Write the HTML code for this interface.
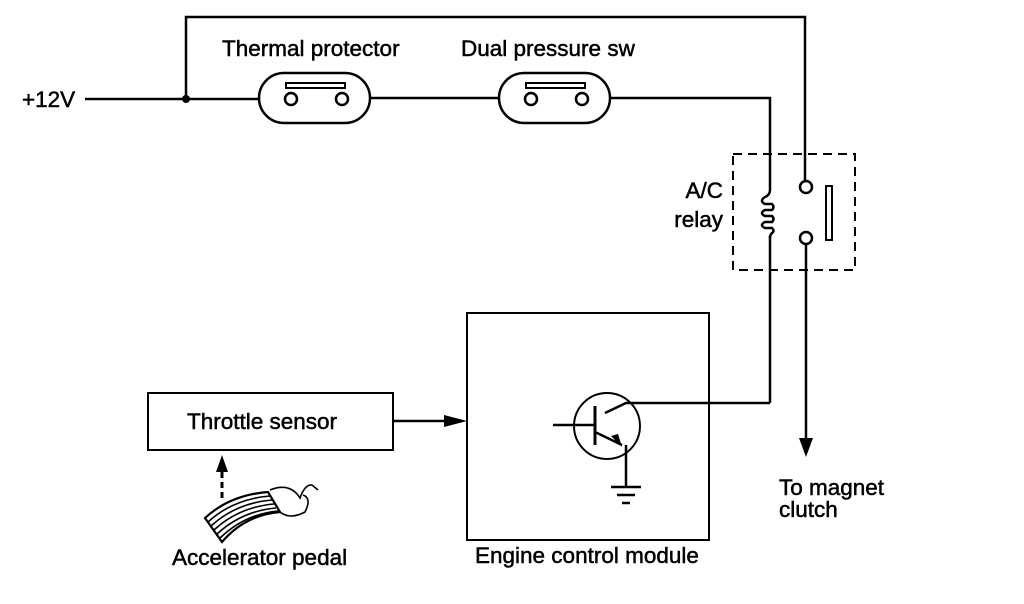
<!DOCTYPE html>
<html><head><meta charset="utf-8"><style>
html,body{margin:0;padding:0;background:#fff;}
svg{display:block}
text{font-family:"Liberation Sans",Arial,sans-serif;font-size:22.5px;fill:#000;stroke:#000;stroke-width:0.5}
</style></head><body>
<svg width="1024" height="604" viewBox="0 0 1024 604" xmlns="http://www.w3.org/2000/svg">
<g stroke="#000" stroke-width="2.5" fill="none">
<line x1="85" y1="99" x2="260" y2="99"/>
<polyline points="186,99 186,17 805,17 805,180"/>
<line x1="370" y1="98" x2="500" y2="98"/>
<polyline points="610,98 770,98 770,190"/>
<rect x="259" y="73" width="111" height="50" rx="25"/>
<rect x="499" y="73" width="111" height="50" rx="25"/>
<rect x="286" y="83" width="59" height="5" stroke-width="2"/>
<rect x="526" y="83" width="59" height="5" stroke-width="2"/>
<circle cx="291" cy="99" r="6" fill="#fff"/>
<circle cx="342" cy="99" r="6" fill="#fff"/>
<circle cx="531" cy="99" r="6" fill="#fff"/>
<circle cx="582" cy="99" r="6" fill="#fff"/>
<rect x="733" y="154" width="122" height="116" stroke-dasharray="9,6" stroke-width="2"/>
<path d="M770 190 Q770 195 765 197 Q759 201 765 204 L772 204 Q775 207 772 210 L765 210 Q759 213 765 216 L772 216 Q775 219 772 222 L765 222 Q759 225 765 228 L772 228 Q775 231 772 233 Q770 235 770 238"/>
<line x1="770" y1="236" x2="770" y2="403"/>
<circle cx="806" cy="187" r="6" fill="#fff"/>
<circle cx="806" cy="238" r="6" fill="#fff"/>
<rect x="826" y="186" width="6" height="54" stroke-width="2"/>
<line x1="806" y1="244" x2="806" y2="440"/>
<rect x="467" y="313" width="242" height="227" stroke-width="2"/>
<polyline points="770,403 626,403 605,413"/>
<circle cx="607" cy="426" r="33" stroke-width="2"/>
<line x1="553" y1="425" x2="595" y2="425"/>
<line x1="595" y1="406" x2="595" y2="445" stroke-width="3"/>
<line x1="595" y1="432" x2="622" y2="445"/>
<line x1="626" y1="445" x2="626" y2="486"/>
<line x1="611" y1="487" x2="641" y2="487"/>
<line x1="617" y1="495" x2="635" y2="495"/>
<line x1="622" y1="503" x2="630" y2="503"/>
<rect x="148" y="393" width="245" height="57" stroke-width="2"/>
<line x1="393" y1="421" x2="450" y2="421"/>
<line x1="222" y1="498" x2="222" y2="470" stroke-dasharray="6,4" stroke-width="3"/>
</g>
<circle cx="186" cy="99" r="4"/>
<polygon points="622,447 611,436 618,434"/>
<polygon points="467,421 444,415 444,427"/>
<polygon points="806,457 799,438 813,438"/>
<polygon points="222,455 216,472 228,472"/>
<g stroke="#000" fill="none" stroke-width="1.6">
<path d="M205 518 Q230 495 268 492 L280 512 Q245 515 222 542 Z" stroke-width="2.2"/>
<path d="M208 522 Q233 499 270 496"/><path d="M211 526 Q236 503 272 500"/>
<path d="M214 530 Q239 507 274 504"/><path d="M217 534 Q242 511 276 508"/>
<path d="M220 538 Q245 514 278 511"/>
<path d="M270 490 Q290 482 300 498 Q305 484 312 485 L318 490"/>
<path d="M280 512 Q290 520 305 512 Q312 498 303 495"/>
</g>
<text x="222" y="56">Thermal protector</text>
<text x="461" y="56">Dual pressure sw</text>
<text x="22" y="107">+12V</text>
<text x="723" y="198" text-anchor="end">A/C</text>
<text x="723" y="227" text-anchor="end">relay</text>
<text x="262" y="429" text-anchor="middle">Throttle sensor</text>
<text x="172" y="565">Accelerator pedal</text>
<text x="475" y="563">Engine control module</text>
<text x="779" y="495">To magnet</text>
<text x="779" y="517">clutch</text>
</svg>
</body></html>
